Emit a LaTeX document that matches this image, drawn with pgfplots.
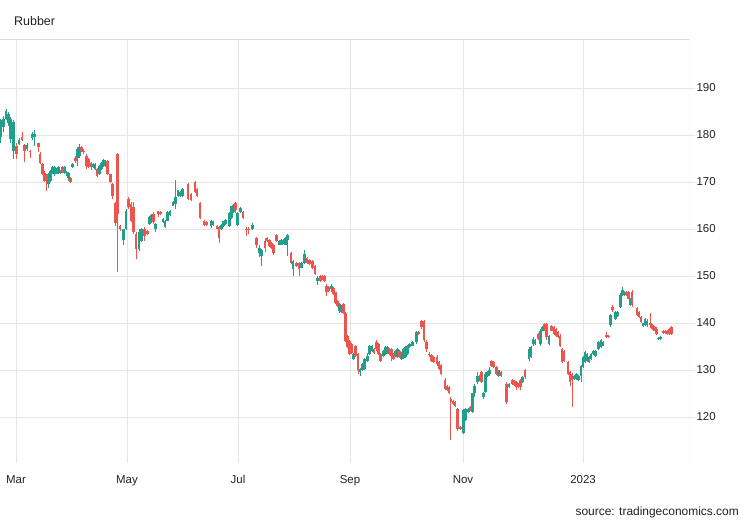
\documentclass[border=0pt]{standalone}
\usepackage{fontspec}
\setmainfont{Liberation Sans}
\usepackage{pgfplots}
\usepackage{pgfplotstable}
\pgfplotsset{compat=1.18}

\definecolor{upgreen}{RGB}{34,158,138}
\definecolor{downred}{RGB}{236,84,78}
\definecolor{gridgray}{RGB}{230,230,230}
\definecolor{framegray}{RGB}{218,218,218}
\definecolor{labelgray}{RGB}{34,34,34}

% daily candles, x = position along the time axis, o h l c = open high low close
\pgfplotstableread{
x o h l c
0.7 179.5 183.4 178.4 183.1
3.7 181.6 184.1 180.6 183.4
6 183.4 185.6 183.1 185.1
8.5 182.5 184.8 182 184.5
10.7 179.1 183.8 178.4 183.4
13.7 176.6 183.1 174.9 182.7
19 178.1 179.3 177.9 178.9
27 177 178.2 176.7 177.9
32 179.4 180.6 178.9 180.2
34.7 179.5 181.1 177.7 180.2
48.3 169.5 172 168.8 171.6
50.3 170.2 172.6 170 172.4
52.3 172 173.3 171.8 173.1
54.3 171.8 173.4 171.3 173.2
56.3 171.8 172.9 171.6 172.7
58.3 172 173.3 171.8 173.1
60.3 172 172.6 171.8 172.4
64.3 172 173.3 171.8 173.1
66.3 171.9 172.4 171.3 172.1
68.3 170.9 172.2 170.2 172
72.7 173.1 174 172.9 173.8
77.7 175.2 177.4 173.4 177
79.7 175.6 178.1 175.2 177.4
93 173.1 174 172.9 173.8
95 172.7 174 172.5 173.8
99.3 171.6 173.6 171.4 173.4
101.3 172.7 174.3 172.5 174.1
103.3 173.4 174.8 173.2 174.6
105.3 173.4 174.7 173.2 174.5
123.3 157.7 160.1 156.6 159.9
126 160 164.2 159.8 163.9
139 155.7 160 155.4 159.3
141.3 157.5 160.3 157.2 160
149.5 161.1 162.7 160.9 162.5
151.5 161.4 163.1 161.2 162.9
155.5 160 161.3 159.3 161.1
163 161.4 162.3 161.2 162.1
165 160.4 162 160.2 161.8
167.7 161.8 163.8 161.6 163.6
170 162.9 164.1 162.7 163.9
173 165 165.9 164.8 165.7
175.7 165.4 170.4 164.3 166.8
178 167.1 168.4 166.9 168.2
180 167.1 168.1 166.9 167.9
182.7 167.1 168.8 166.9 168.6
211 160.6 162 160.2 161.6
213 160.9 161.8 160.7 161.6
221.7 159.9 161.1 159.7 160.9
223.7 160.6 161.8 160.4 161.6
225.7 161 162.2 160.8 162
229.7 160.6 163.6 160.4 163.4
231.7 162.3 165 162.1 164.8
233.7 163.7 165.3 163.5 165.1
237.7 160.9 163.6 160.7 163.4
240.3 163.7 164.7 163.4 164.4
252.7 160.1 161.2 159.8 160.9
259.7 154.9 156.7 154 156
261.7 154.2 155.8 152.1 155.6
279.3 156.7 157.6 156.5 157.4
281.3 156.7 157.9 156.5 157.7
283.3 157 157.9 156.8 157.7
285.3 156.7 158.3 156.5 158.1
287.3 157.7 158.9 154.2 158.8
293 151.4 153.4 150 153.2
301.5 151.8 153 151.6 152.8
304.3 152.8 155.6 152.6 154.6
317.7 148.9 150 148.1 149.6
331.3 147.2 148.2 146.5 147.9
339.7 142.6 144.3 142.2 144
341.7 142.4 143.8 142.2 143.6
353.5 132.3 133.6 132.1 133.4
360 129.5 130.4 128.8 130.2
362.3 129.9 131.5 129.7 131.3
364.3 130.2 132.5 130 132.3
367.3 132 133.7 131.6 133
369.5 133.4 135.4 133.2 135.2
372 134.1 135.4 133.9 135.2
383.3 133 134.3 132.8 134.1
385.3 133.4 135 133.2 134.8
387.3 133.7 135 133.5 134.8
395.3 133 134.3 132.8 134.1
397.3 132.7 134.7 132.5 134.5
401.3 132.3 133.9 132.1 133.7
403.3 132.6 134.7 132.4 134.5
405.3 132.7 135 132.5 134.8
407.3 133.4 135.4 133.2 135.2
409.5 134.8 135.8 134.6 135.6
412.5 135.2 136.1 135 135.9
416.3 135.9 138.3 135.6 138
463.7 116.5 121.8 116.3 121.4
465.7 119.3 122 119.1 121.8
468.3 121.1 122 120.9 121.8
472.3 121.1 125.2 120.9 125
474.3 125 127 124.3 126.7
477.7 127.4 129.5 127.1 128.8
479.7 127.8 129 127.6 128.8
483.5 124.2 125.4 123.9 125
485.5 125.3 129.5 125 129.2
487.5 128.8 129.7 128.6 129.5
489.7 129.2 130.6 128.8 129.9
498.3 128.8 130.1 128.6 129.9
509 126.4 127.3 126.2 127.1
522.3 127.4 128.7 127.2 128.5
529 132.4 134.8 132 134.5
531 132.7 135 132.5 134.8
533 135.5 137 135.2 136.6
535 135.5 136.5 135.3 136.3
540.3 135.5 138.8 135.2 138.4
542.3 138.4 139.3 138.2 139.1
549 135.5 137.5 135.3 137.3
574 128.1 129 127.9 128.8
576.3 128.1 129.4 127.9 129.2
578.3 127.8 129 127.6 128.8
581 128.8 131.1 127.4 130.9
583 130.6 132.9 130.4 132.7
585 131.6 134 131.4 133.8
587 132 133.6 131.8 133.4
589 131.6 132.9 131.4 132.7
591 132.3 133.6 132.1 133.4
593.7 133.4 134.3 133.2 134.1
595.7 133 134.3 132.8 134.1
598.3 134.5 136.1 134.3 135.9
601 134.9 136.5 134.7 136.3
603 135.2 136.1 135 135.9
610.3 139.5 142 139.1 141.6
615.3 140.9 142.6 140.7 142.4
617.3 141.4 142.6 141.2 142.4
620.3 143.4 146.3 143.2 145.9
622.3 145.9 147.7 145.7 147
624.3 145.9 146.8 145.7 146.6
630.3 143.8 145.4 143.6 145.2
643 139.3 140.1 139.1 139.9
645 139.5 141.1 139.3 140.9
647 139.5 140.9 139.1 140.5
658.5 136.6 137.1 136.4 136.9
660.5 136.6 137.3 136.4 137.1
}\upcandles

\pgfplotstableread{
x o h l c
16.3 177.7 178.4 174.9 175.9
22 179.5 180.6 178.8 178.9
24.7 177.9 178.1 174.3 176.6
30 176.6 176.9 175.2 176.4
38.3 178.2 178.4 176.3 177.5
40 175.9 176.3 173.9 174.1
42.3 173.9 174.1 171.4 171.6
44.3 172 172.4 170 170.2
46.3 171.6 171.8 168.1 170.6
62.3 173.2 173.4 172 172.2
70.3 170.8 171 169.7 169.9
75.3 175.2 175.6 174.1 174.5
81.7 177.4 177.7 176.3 176.6
83.7 176.6 177 175.9 176.4
86.3 175.6 175.9 172.7 173.4
88.3 174.9 175.1 172.9 173.1
91 174.1 174.3 172.5 173.1
97 172.7 172.9 171.1 171.3
107.3 174.5 174.7 171.4 171.6
110.3 171.6 171.8 169.7 169.9
112.3 169.5 169.7 166.3 167
115.3 165.6 165.8 160.6 161.3
117.3 175.9 176.1 150.9 163.1
120 160.6 160.9 159.6 159.9
128.5 166.4 166.8 164.3 164.6
131 165.4 165.7 161.4 161.8
133.3 164.6 165.7 158.9 159.3
136 158.9 159.3 153.6 155.7
144.3 160 160.4 157.5 158.6
147.5 159.6 159.8 158.7 158.9
153.5 163.2 163.6 161.1 161.4
158 163.8 163.9 162.5 163.2
160.7 163.6 163.8 163 163.2
188 169.6 169.8 166.1 166.4
191 167.5 167.7 165.9 166.1
195 170 170.2 167.6 167.9
197 168.6 168.8 166.9 167.1
200 165.5 165.7 162.1 162.3
204 161.8 162 160.6 160.9
206.3 161.5 161.7 160.7 160.9
217 160.6 160.8 159.9 160.1
219 160.4 160.6 157 158.1
235.7 165.5 165.8 163.4 164.1
243 163.7 163.9 162.1 162.3
246 160.1 160.4 158.5 159.9
248.7 160.1 160.4 158.9 159.9
256.3 158.1 158.2 155.9 156.7
265 157.4 158.1 155.2 156
267 158.1 158.3 157.2 157.4
269.7 157.7 157.9 156.1 156.3
271.7 157 157.2 155.8 156
273.7 156.7 156.9 154.5 154.9
276.3 158.8 159 157.2 157.4
291 154.9 155.1 152.6 152.8
296.3 152.8 153 151.9 152.1
299 152.8 153 150 151.4
307 153.9 154.1 152.6 152.8
309.7 153.5 153.7 152.3 152.5
312.3 153.2 153.4 151.4 151.6
315 152.1 152.3 150.2 150.4
320.3 150 150.2 148.7 148.9
322.3 150 150.2 149.1 149.3
324.3 150 150.2 148.7 148.9
326.3 147.9 148.2 145.8 146.5
328.3 147.7 147.9 146.7 146.9
333.3 147.5 147.7 145.9 146.1
335.7 146.5 146.7 144.1 144.3
337.7 144.7 144.9 143.4 143.6
343.7 144 144.2 142 142.2
345.5 142.2 142.4 136 136.2
347.5 137.3 137.5 134.6 134.8
349.7 136.2 136.4 133.2 133.4
351.5 135.5 135.7 133.5 133.7
355.5 135.2 135.4 132.8 133
358 133.4 133.7 129.2 129.9
374 134.5 134.7 133.5 133.7
376.7 135.9 136.3 134.1 134.5
378.7 135.5 135.7 133.2 133.4
380.7 133.4 133.6 131.6 132
389.3 134.5 134.7 133.2 133.4
391.3 134.5 134.7 131.9 133
393.3 133.4 133.6 132.1 132.3
399.3 134.1 134.3 132.5 132.7
418.5 138 138.2 137.4 137.6
421.3 140.5 140.6 138.8 139.1
424 140.5 140.6 135.9 136.3
426.3 135.9 136.3 133.8 134.5
429 133.4 133.8 132.8 133.1
431.7 133.1 133.4 131.7 132
433.7 132.7 132.9 131.4 131.6
437 132.7 133.1 130.9 131.3
439 131.7 131.9 130 130.2
441 131 131.2 129 129.2
445 127.8 128.2 125.7 126
447 126.7 126.9 125.5 125.7
449 126.4 126.6 124.8 125
450.8 123.9 124.2 115.1 123.2
453 123.5 123.7 122.6 122.8
455 123.2 123.4 122.2 122.4
457.7 121.8 122 117.1 117.5
460.3 117.9 118.1 117.2 117.5
470.3 122.1 122.3 121.2 121.4
481.7 129.5 129.7 127.2 127.4
491.7 132 132.2 130.6 130.9
493.7 131.7 131.9 130.4 130.6
496.3 130.6 130.8 129 129.2
501 129.5 129.7 128.6 128.8
506.3 127.1 127.4 122.8 123.2
512.3 127.8 128 126.9 127.1
514.3 127.7 127.9 126.6 126.8
516.3 127.4 127.6 125.7 126.4
518.3 127.1 127.3 126.2 126.4
520.3 127.8 128 125.7 126.4
525 129.9 130.2 128.1 128.5
538.3 137.7 137.9 136.4 136.6
544.3 139.8 140 138.4 138.7
546.3 139.8 140 136.3 137
551.7 139.4 139.6 138.2 138.4
554 139.1 139.3 137.5 137.7
556 138.7 138.9 137.1 137.3
558 138 138.2 136.8 137
560 137.3 137.7 134.8 135.2
562 134.5 134.7 131.5 131.7
564 134.1 134.3 131.8 132
568 131.7 131.9 129 129.2
570 129.5 129.7 126.7 127.4
572 129.2 129.4 122.1 127.8
606.3 137.4 138.1 136.9 137
608.3 137.2 137.4 136.8 137
612.7 143.4 143.8 142.4 142.7
626.3 146.6 146.8 145.7 145.9
628.3 146.6 146.8 145 145.2
632 146.6 147 143.4 143.8
637 143.1 143.4 141.4 141.6
639 142.4 142.6 141.1 141.3
641 141.3 141.5 140 140.2
650.5 139.9 142.1 138.9 139.5
652.5 139.5 139.7 138.6 138.8
654.5 139.1 139.3 138.2 138.4
656.5 138.8 139.1 137.4 137.7
663 138.4 138.6 137.7 137.9
665 138.4 138.6 137.7 137.9
667 138.4 138.6 137.5 137.7
669.3 138.8 139 137.5 137.7
671.3 139.1 139.3 137.5 137.7
}\downcandles

\pgfplotsset{
    wick/.style={draw=none, no markers, forget plot,
        error bars/y dir=plus, error bars/y explicit, error bars/error mark=none,
        error bars/error bar style={draw=#1, line width=0.8bp}},
    body/.style={draw=none, no markers, forget plot,
        error bars/y dir=plus, error bars/y explicit, error bars/error mark=none,
        error bars/error bar style={draw=#1, line width=2.5bp}},
}

\begin{document}
\begin{tikzpicture}
    \path[use as bounding box] (0,0) rectangle (750bp,520bp);

    \begin{axis}[
        at={(0bp,57bp)}, anchor=south west,
        width=689bp, height=424bp, scale only axis,
        xmin=0, xmax=689, ymin=110.21, ymax=200.43,
        axis line style={draw=none},
        xtick={16,127,238,350,463,583},
        xticklabels={Mar,May,Jul,Sep,Nov,2023},
        ytick={120,130,...,190},
        xtick pos=bottom, ytick pos=right,
        yticklabel pos=right,
        xmajorgrids, ymajorgrids,
        grid style={draw=gridgray, line width=0.8bp},
        xtick style={draw=none},
        ytick style={draw=gridgray, line width=0.8bp},
        tick align=outside,
        major tick length=6bp,
        ticklabel style={font=\fontsize{11.5}{13}\selectfont, text=labelgray},
        /pgf/number format/assume math mode=true,
        yticklabel style={anchor=west, xshift=-2bp},
        xticklabel style={yshift=-3bp},
    ]

    % green (up) candles
    \addplot[wick=upgreen] table[x=x, y=l, y error plus expr={\thisrow{h}-\thisrow{l}}] {\upcandles};
    \addplot[body=upgreen] table[x=x, y expr={min(\thisrow{o},\thisrow{c})}, y error plus expr={abs(\thisrow{c}-\thisrow{o})}] {\upcandles};

    % red (down) candles
    \addplot[wick=downred] table[x=x, y=l, y error plus expr={\thisrow{h}-\thisrow{l}}] {\downcandles};
    \addplot[body=downred] table[x=x, y expr={min(\thisrow{o},\thisrow{c})}, y error plus expr={abs(\thisrow{c}-\thisrow{o})}] {\downcandles};

    % frame: top, right, bottom
    \draw[framegray, line width=0.8bp] (rel axis cs:0,1) -- (rel axis cs:1,1) -- (rel axis cs:1,0) -- (rel axis cs:0,0);
    \end{axis}

    \node[anchor=west, inner sep=0pt, font=\fontsize{12.5}{14}\selectfont, text=labelgray] at (14bp,499bp) {Rubber};
    \node[anchor=east, inner sep=0pt, font=\fontsize{12}{14}\selectfont, text=labelgray] at (739bp,8bp) {source: tradingeconomics.com};
\end{tikzpicture}
\end{document}
